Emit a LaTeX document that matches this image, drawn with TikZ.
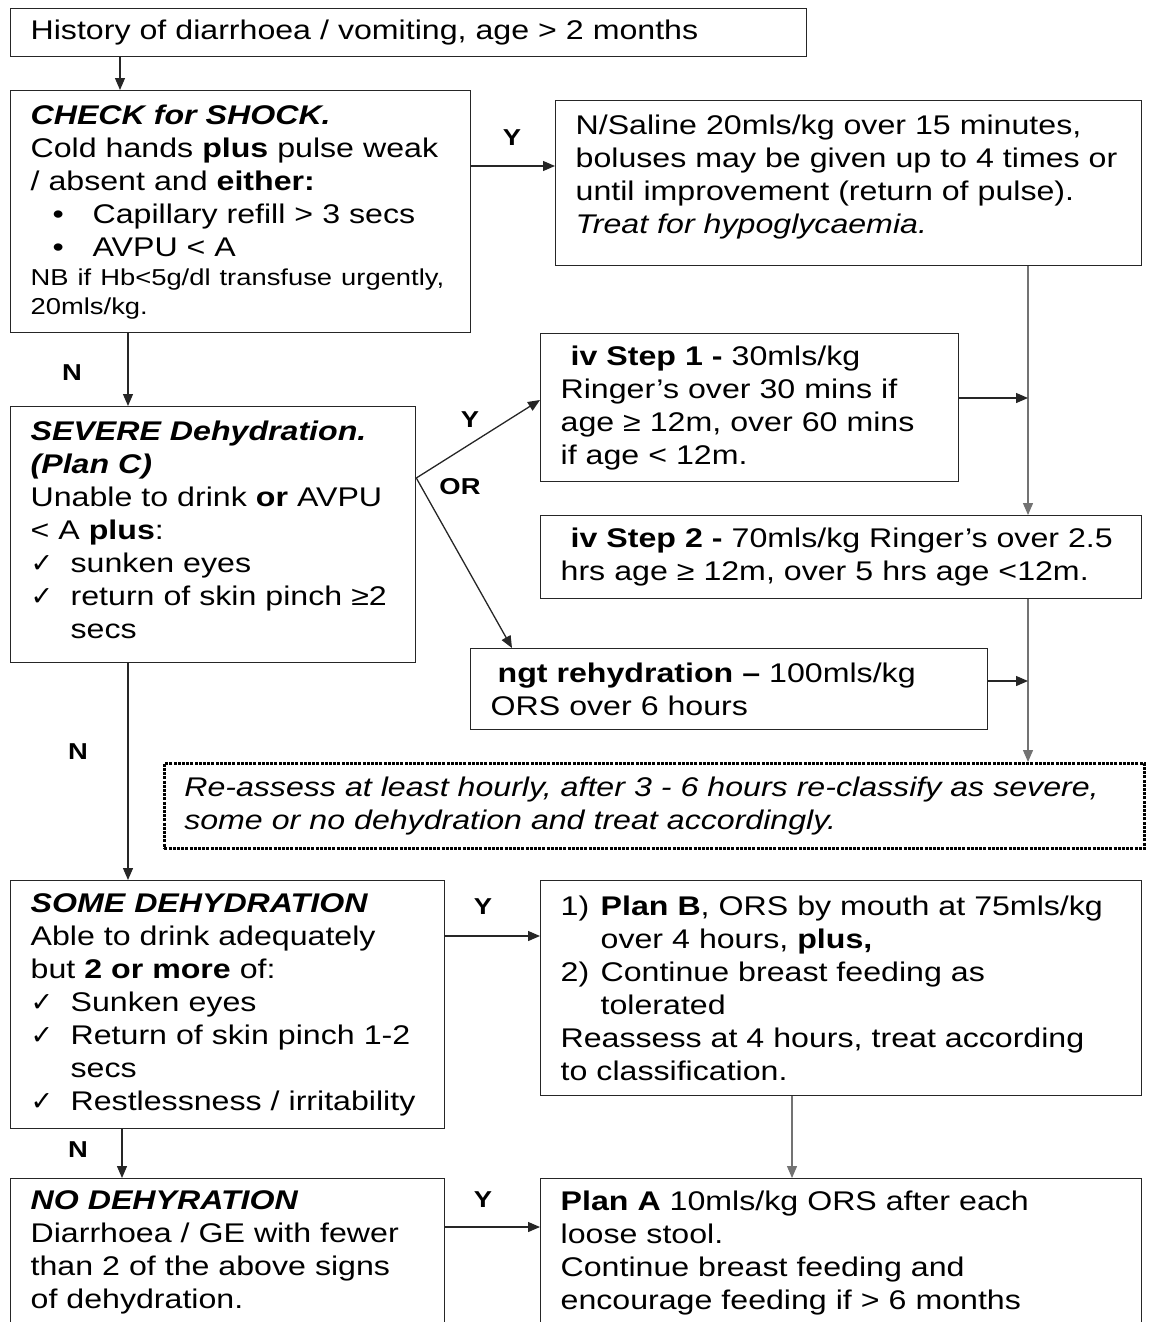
\documentclass[tikz,border=0pt]{standalone}
\usepackage{fontspec}
\setmainfont{Liberation Sans}[FakeStretch=1.19]
\newfontfamily\symfont{DejaVu Sans}
\usetikzlibrary{arrows.meta,calc}

\newcommand{\bul}{\hspace*{22pt}\makebox[40pt][l]{\textbullet}}
\newcommand{\tick}{\makebox[40pt][l]{\symfont\char"2713}}

\begin{document}
\begin{tikzpicture}[x=1pt, y=-1pt,
  box/.style={draw=black!85, line width=1.3pt, anchor=north west, align=left,
              inner xsep=20pt, inner ysep=0pt, font=\fontsize{27}{33}\selectfont},
  note/.style={box, draw=black, dash pattern=on 3pt off 1.2pt, line width=2.6pt,
               font=\fontsize{27}{33}\selectfont\itshape},
  arrow/.style={-{Triangle[length=12pt,width=10pt]}, line width=1.3pt, draw=black!85},
  rail/.style={arrow, draw=black!55},
  label/.style={font=\fontsize{23}{26}\selectfont\bfseries},
]
  \useasboundingbox (0,0) rectangle (1149,1322);
  \clip (0,0) rectangle (1149,1322);

  % Left column
  \node[box, text width=756pt, minimum height=48pt] (hist) at (10,8)
    {History of diarrhoea / vomiting, age > 2 months};
  \node[box, text width=420pt, minimum height=242pt] (shock) at (10,90)
    {\textbf{\textit{CHECK for SHOCK.}}\\
     Cold hands \textbf{plus} pulse weak\\
     / absent and \textbf{either:}\\
     \bul Capillary refill > 3 secs\\
     \bul AVPU < A\\
     {\fontsize{23}{29}\selectfont NB if Hb<5g/dl transfuse urgently,\par 20mls/kg.\par}};
  \node[box, text width=365pt, minimum height=256pt] (severe) at (10,406)
    {\textbf{\textit{SEVERE Dehydration.}}\\
     \textbf{\textit{(Plan C)}}\\
     Unable to drink \textbf{or} AVPU\\
     < A \textbf{plus}:\\
     \tick sunken eyes\\
     \tick return of skin pinch ≥2\\
     \hspace*{40pt}secs\rule[-10pt]{0pt}{1pt}};
  \node[box, text width=394pt, minimum height=248pt] (some) at (10,880)
    {\textbf{\textit{SOME DEHYDRATION}}\\
     Able to drink adequately\\
     but \textbf{2 or more} of:\\
     \tick Sunken eyes\\
     \tick Return of skin pinch 1-2\\
     \hspace*{40pt}secs\\
     \tick Restlessness / irritability};
  \node[box, text width=394pt, minimum height=148pt] (nodehyd) at (10,1178)
    {\textbf{\textit{NO DEHYRATION}}\\
     Diarrhoea / GE with fewer\\
     than 2 of the above signs\\
     of dehydration.};

  % Right column
  \node[box, text width=546pt, minimum height=165pt] (saline) at (555,100)
    {N/Saline 20mls/kg over 15 minutes,\\
     boluses may be given up to 4 times or\\
     until improvement (return of pulse).\\
     \textit{Treat for hypoglycaemia.}\rule[-18pt]{0pt}{1pt}};
  \node[box, text width=378pt, minimum height=148pt] (step1) at (540,333)
    {\hspace*{10pt}\textbf{iv Step 1 -} 30mls/kg\\
     Ringer’s over 30 mins if\\
     age ≥ 12m, over 60 mins\\
     if age < 12m.};
  \node[box, text width=561pt, minimum height=83pt] (step2) at (540,515)
    {\hspace*{10pt}\textbf{iv Step 2 -} 70mls/kg Ringer’s over 2.5\\
     hrs age ≥ 12m, over 5 hrs age <12m.};
  \node[box, text width=477pt, minimum height=81pt] (ngt) at (470,648)
    {\hspace*{7pt}\textbf{ngt rehydration –} 100mls/kg\\
     ORS over 6 hours};
  \node[note, text width=940pt, minimum height=85pt] (reassess) at (163,762)
    {Re-assess at least hourly, after 3 - 6 hours re-classify as severe,\\
     some or no dehydration and treat accordingly.};
  \node[box, text width=561pt, minimum height=215pt] (planb) at (540,880)
    {\makebox[40pt][l]{1)}\textbf{Plan B}, ORS by mouth at 75mls/kg\\
     \hspace*{40pt}over 4 hours, \textbf{plus,}\\
     \makebox[40pt][l]{2)}Continue breast feeding as\\
     \hspace*{40pt}tolerated\\
     Reassess at 4 hours, treat according\\
     to classification.};
  \node[box, text width=561pt, minimum height=148pt] (plana) at (540,1178)
    {\textbf{Plan A} 10mls/kg ORS after each\\
     loose stool.\\
     Continue breast feeding and\\
     encourage feeding if > 6 months};

  % Helper points
  \coordinate (fork) at ($(severe.north east)+(0,72)$);
  \coordinate (rail) at ($(saline.south west)+(473,0)$);

  % Connectors
  \draw[arrow] ($(hist.south west)+(110,0)$) -- ($(shock.north west)+(110,0)$);
  \draw[arrow] ($(shock.north east)+(0,76)$) -- ($(saline.north west)+(0,66)$);
  \draw[arrow] ($(shock.south west)+(118,0)$) -- ($(severe.north west)+(118,0)$);
  \draw[arrow] (fork) -- ($(step1.north west)+(0,67)$);
  \draw[arrow] (fork) -- ($(ngt.north west)+(42,0)$);
  \draw[arrow] ($(severe.south west)+(118,0)$) -- ($(some.north west)+(118,0)$);
  \draw[arrow] ($(some.south west)+(112,0)$) -- ($(nodehyd.north west)+(112,0)$);
  \draw[arrow] ($(some.north east)+(0,56)$) -- ($(planb.north west)+(0,56)$);
  \draw[arrow] ($(nodehyd.north east)+(0,49)$) -- ($(plana.north west)+(0,49)$);
  \draw[rail] (rail) -- (rail |- step2.north);
  \draw[arrow] ($(step1.north east)+(0,65)$) -- (rail |- {$(step1.north east)+(0,65)$});
  \draw[rail] (rail |- step2.south) -- (rail |- reassess.north);
  \draw[arrow] ($(ngt.north east)+(0,33)$) -- (rail |- {$(ngt.north east)+(0,33)$});
  \draw[rail] ($(planb.south west)+(252,0)$) -- ($(plana.north west)+(252,0)$);

  % Branch labels
  \node[label] (yshock) at (512,138) {Y};
  \node[label] (nshock) at (72,373) {N};
  \node[label] (ysevere) at (470,420) {Y};
  \node[label] (orsevere) at (460,487) {OR};
  \node[label] (nsevere) at (78,752) {N};
  \node[label] (ysome) at (483,907) {Y};
  \node[label] (nsome) at (78,1150) {N};
  \node[label] (ynone) at (483,1200) {Y};
\end{tikzpicture}
\end{document}
